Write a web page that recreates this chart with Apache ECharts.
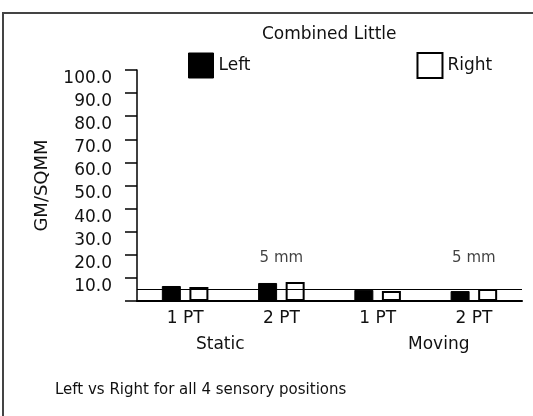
<!DOCTYPE html>
<html>
<head>
<meta charset="utf-8">
<script src="https://cdn.jsdelivr.net/npm/echarts@6/dist/echarts.min.js"></script>
<style>
  html, body { margin: 0; padding: 0; background: #fff; }
  #chart { width: 533px; height: 416px; }
</style>
</head>
<body>
<div id="chart"></div>
<script>
// data
let categories = ['1 PT', '2 PT', '1 PT', '2 PT']
let groups = ['Static', 'Moving']
let leftValues = [6.5, 7.8, 4.8, 4.3]
let rightValues = [6.1, 8.2, 4.3, 5.2]
let refLine = 5.2
let notes = ['', '5 mm', '', '5 mm']
let noteLevel = 18.5

let font = 'DejaVu Sans'
let ink = '#111'

let chart = echarts.init(document.getElementById('chart'))

let noteData = []
for (let i = 0; i < notes.length; i++) {
  if (notes[i]) noteData.push({ value: [i, noteLevel], label: { formatter: notes[i] } })
}

let option = {
  backgroundColor: '#fff',
  animation: false,
  textStyle: { fontFamily: font, color: ink },
  title: [
    {
      text: 'Combined Little',
      left: 257,
      top: 21,
      textStyle: { fontFamily: font, fontSize: 17, fontWeight: 'normal', color: ink }
    },
    {
      text: 'Left vs Right for all 4 sensory positions',
      left: 50,
      top: 378,
      textStyle: { fontFamily: font, fontSize: 15, fontWeight: 'normal', color: ink }
    }
  ],
  legend: {
    data: [
      { name: 'Left', itemStyle: { color: '#000', borderColor: '#000', borderWidth: 1 } },
      { name: 'Right', itemStyle: { color: '#fff', borderColor: '#000', borderWidth: 2 } }
    ],
    left: 183,
    top: 47,
    icon: 'rect',
    itemWidth: 25,
    itemHeight: 25,
    itemGap: 166,
    textStyle: { fontFamily: font, fontSize: 17, color: ink, padding: [0, 0, 5, 0] }
  },
  graphic: [
    {
      type: 'rect',
      shape: { x: 3, y: 13, width: 540, height: 420 },
      style: { fill: 'none', stroke: '#444', lineWidth: 2 },
      silent: true
    }
  ],
  grid: {
    left: 137,
    right: 11,
    top: 70,
    bottom: 115
  },
  xAxis: [
    {
      type: 'category',
      data: categories,
      axisLine: { lineStyle: { color: '#000', width: 2 } },
      axisTick: { show: false },
      axisLabel: { fontFamily: font, fontSize: 17, color: ink, margin: 9 }
    },
    {
      type: 'category',
      data: groups,
      position: 'bottom',
      axisLine: { show: false },
      axisTick: { show: false },
      axisLabel: {
        fontFamily: font,
        fontSize: 17,
        color: ink,
        margin: 35,
        formatter: function (v, i) { return i === 0 ? '{a|' + v + '}' : '{b|' + v + '}' },
        rich: {
          a: { fontFamily: font, fontSize: 17, color: ink, padding: [0, 26, 0, 0] },
          b: { fontFamily: font, fontSize: 17, color: ink, padding: [0, 0, 0, 26] }
        }
      }
    }
  ],
  yAxis: {
    type: 'value',
    min: 0,
    max: 100,
    interval: 10,
    name: 'GM/SQMM',
    nameLocation: 'middle',
    nameRotate: 90,
    nameGap: 86,
    nameTextStyle: { fontFamily: font, fontSize: 18, color: ink },
    axisLine: { show: true, lineStyle: { color: '#000', width: 1.5 } },
    axisTick: { show: true, length: 12, lineStyle: { color: '#000', width: 1.5 } },
    splitLine: { show: false },
    axisLabel: {
      fontFamily: font,
      fontSize: 17,
      color: ink,
      margin: 25,
      verticalAlign: 'top',
      formatter: function (v) { return v === 0 ? '' : v.toFixed(1) }
    }
  },
  series: [
    {
      name: 'Left',
      type: 'bar',
      data: leftValues,
      barWidth: 19,
      barGap: '45%',
      itemStyle: { color: '#000', borderColor: '#000', borderWidth: 1 },
      markLine: {
        silent: true,
        symbol: 'none',
        label: { show: false },
        lineStyle: { color: '#000', width: 1, type: 'solid' },
        data: [{ yAxis: refLine }]
      }
    },
    {
      name: 'Right',
      type: 'bar',
      data: rightValues,
      barWidth: 19,
      itemStyle: { color: '#fff', borderColor: '#000', borderWidth: 2 }
    },
    {
      name: 'notes',
      type: 'scatter',
      symbolSize: 0,
      data: noteData,
      label: {
        show: true,
        position: 'inside',
        fontFamily: font,
        fontSize: 15,
        color: ink
      }
    }
  ]
}

chart.setOption(option)
</script>
</body>
</html>
